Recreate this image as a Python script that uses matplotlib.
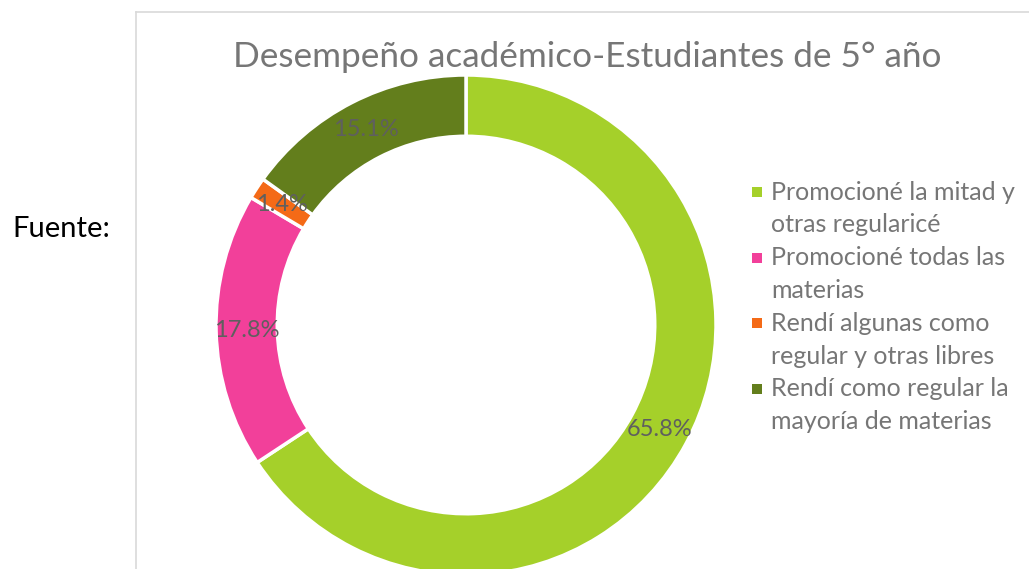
import matplotlib
matplotlib.use("Agg")
import matplotlib.pyplot as plt
import numpy as np
from matplotlib.lines import Line2D
from matplotlib.patches import Rectangle

W, H = 1029, 569

# data
categories = [
    "Promocioné la mitad y\notras regularicé",
    "Promocioné todas las\nmaterias",
    "Rendí algunas como\nregular y otras libres",
    "Rendí como regular la\nmayoría de materias",
]
values = [65.8, 17.8, 1.4, 15.1]
colors = ["#A5D02A", "#F2409A", "#F46A17", "#637E1C"]
title = "Desempeño académico-Estudiantes de 5° año"

plt.rcParams['font.family'] = ['Lato', 'DejaVu Sans']

fig = plt.figure(figsize=(W / 100, H / 100), dpi=100)

# chart frame (only left and top edges visible in the crop)
fig.add_artist(Line2D([136 / W, 136 / W], [0, 1 - 12 / H], color="#d9d9d9", lw=1.2))
fig.add_artist(Line2D([136 / W, 1], [1 - 12 / H, 1 - 12 / H], color="#d9d9d9", lw=1.2))

fig.text(12 / W, 1 - 229 / H, "Fuente:", fontsize=21, color="black",
         va="center", ha="left")

# donut
cx, cy, r = 466, 325, 250
ring = 0.245
ax = fig.add_axes([(cx - r) / W, 1 - (cy + r) / H, 2 * r / W, 2 * r / H])
wedges, _ = ax.pie(values, colors=colors, startangle=90, counterclock=False,
                   radius=1, wedgeprops=dict(width=ring, edgecolor="white", linewidth=2.5))
ax.set_xlim(-1, 1)
ax.set_ylim(-1, 1)
ax.set_aspect("equal")
ax.axis("off")

for w, v in zip(wedges, values):
    ang = np.deg2rad((w.theta1 + w.theta2) / 2)
    rr = 1 - ring / 2
    ax.text(rr * np.cos(ang), rr * np.sin(ang), f"{v:.1f}%", ha="center", va="center",
            fontsize=17, color="#5f5f5f", clip_on=False)

fig.text(587 / W, 1 - 57 / H, title, fontsize=25.3, color="#767676", ha="center", va="center")

# legend
y0, step = 192, 32.8
line = 0
for lab, c in zip(categories, colors):
    yy = y0 + line * step
    fig.add_artist(Rectangle((752 / W, 1 - (yy + 5) / H), 10 / W, 10 / H,
                             facecolor=c, edgecolor="none", transform=fig.transFigure))
    for p in lab.split("\n"):
        fig.text(771 / W, 1 - (y0 + line * step) / H, p, fontsize=18, color="#767676",
                 ha="left", va="center")
        line += 1

fig.savefig("out.png", dpi=100, facecolor="white")
